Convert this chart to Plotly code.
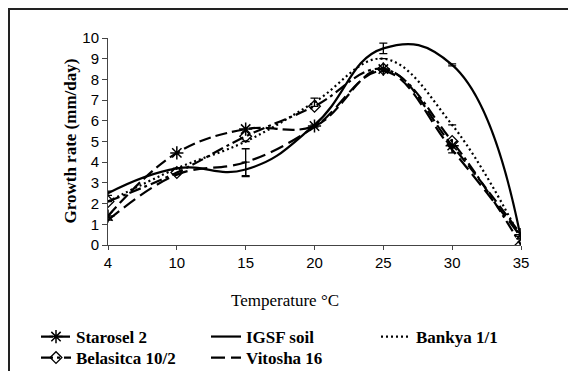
import plotly.graph_objects as go

temps = ["4", "10", "15", "20", "25", "30", "35"]
starosel = [1.4, 4.45, 5.6, 5.75, 8.5, 4.8, 0.5]
igsf = [2.5, 3.7, 3.65, 5.8, 9.5, 8.7, 0.3]
bankya = [2.1, 3.7, 5.0, 6.9, 9.0, 5.8, 0.3]
belasitca = [2.1, 3.5, 5.25, 6.7, 8.5, 5.0, 0.0]
vitosha = [1.2, 3.4, 4.0, 5.7, 8.4, 4.6, 0.4]

igsf_err = [0.1, 0.0, 0.35, 0.0, 0.25, 0.05, 0.0]
bankya_err = [0.0, 0.0, 0.0, 0.2, 0.0, 0.0, 0.0]
vitosha_err = [0.0, 0.0, 0.65, 0.0, 0.0, 0.15, 0.0]

W, H = 568, 371
L, R, T, B = 108, 47, 38, 126
pw, ph = W - L - R, H - T - B

xi = list(range(len(temps)))

fig = go.Figure()

def add(name, y, dash, marker=None, err=None, smoothing=1.1, legend="legend"):
    kw = dict(x=xi, y=y, name=name, mode="lines", legend=legend,
              line=dict(color="black", width=2.2, dash=dash, shape="spline", smoothing=smoothing))
    if marker:
        kw["mode"] = "lines+markers"
        kw["marker"] = marker
    if err:
        kw["error_y"] = dict(type="data", array=err, visible=True, color="black", thickness=1.3, width=4)
    fig.add_trace(go.Scatter(**kw))

add("Starosel 2", starosel, "12px,5px",
    marker=dict(symbol="asterisk-open", size=11, color="black", line=dict(color="black", width=1.5)))
add("IGSF soil", igsf, "solid", err=igsf_err, smoothing=1.3)
add("Bankya 1/1", bankya, "2px,3px", err=bankya_err)
add("Belasitca 10/2", belasitca, "12px,4px,3px,4px",
    marker=dict(symbol="diamond-open", size=9, color="black", line=dict(color="black", width=1.3)),
    legend="legend2")
add("Vitosha 16", vitosha, "14px,6px", err=vitosha_err, legend="legend2")

def px2x(p):
    return (p - L) / pw

def py2y(p):
    return (H - B - p) / ph

# outer frame
fig.add_shape(type="rect", xref="paper", yref="paper",
              x0=px2x(9), x1=px2x(600), y0=py2y(400), y1=py2y(9),
              line=dict(color="#222", width=2), layer="below")

fig.add_annotation(text="<b>Growth rate (mm/day)</b>", xref="paper", yref="paper",
                   x=px2x(58), y=py2y(141), textangle=-90, showarrow=False,
                   font=dict(family="Liberation Serif", size=17, color="black"))
fig.add_annotation(text="Temperature °C", xref="paper", yref="paper",
                   x=px2x(285), y=py2y(312), showarrow=False,
                   font=dict(family="Liberation Serif", size=17, color="black"))

legfont = dict(family="Liberation Serif", size=17, color="black", weight="bold")
common = dict(orientation="h", xanchor="left", yanchor="middle",
              entrywidth=125, entrywidthmode="pixels", tracegroupgap=0,
              font=legfont, itemwidth=30, bgcolor="rgba(0,0,0,0)")

fig.update_layout(
    width=W, height=H,
    margin=dict(l=L, r=R, t=T, b=B, autoexpand=False),
    paper_bgcolor="white", plot_bgcolor="white",
    showlegend=True,
    legend=dict(x=px2x(36), y=py2y(337), **common),
    legend2=dict(x=px2x(36), y=py2y(358), **common),
    xaxis=dict(range=[0, 6], tickmode="array", tickvals=xi, ticktext=temps,
               showgrid=False, zeroline=False, showline=True, linecolor="#444", linewidth=1,
               ticks="outside", ticklen=4, tickcolor="#444",
               tickfont=dict(family="Liberation Sans", size=15, color="black")),
    yaxis=dict(range=[0, 10], tickmode="linear", dtick=1, tick0=0,
               showgrid=False, zeroline=False, showline=True, linecolor="#444", linewidth=1,
               ticks="outside", ticklen=5, tickcolor="#444",
               tickfont=dict(family="Liberation Sans", size=15, color="black")),
)

fig.write_html("out.html")
